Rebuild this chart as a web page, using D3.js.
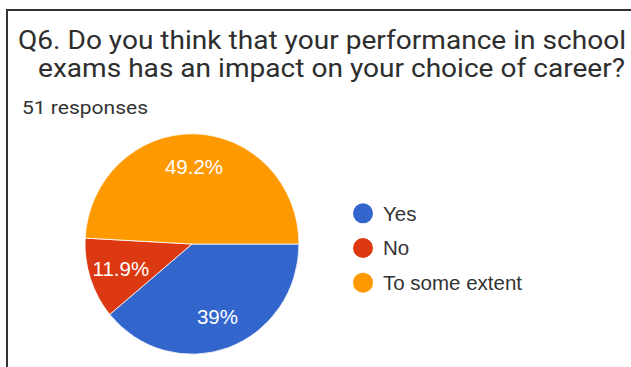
<!DOCTYPE html>
<html>
<head>
<meta charset="utf-8">
<script src="https://cdn.jsdelivr.net/npm/d3@7"></script>
<style>
  html, body { margin: 0; padding: 0; background: #fff; }
  svg { display: block; }
</style>
</head>
<body>
<svg id="chart" width="631" height="367"></svg>
<script>
// Survey answers for Q6
const categories = ["Yes", "No", "To some extent"];
const shares = [39, 11.9, 49.2];
const sliceLabels = ["39%", "11.9%", "49.2%"];
const colors = ["#3366cc", "#dc3912", "#ff9900"];
const titleLines = [
  "Q6. Do you think that your performance in school",
  "exams has an impact on your choice of career?"
];
const subtitle = "51 responses";

const svg = d3.select("#chart");

// card outline (open to the right and bottom)
svg.append("path")
  .attr("d", "M7,367 V10 H631")
  .attr("fill", "none")
  .attr("stroke", "#333")
  .attr("stroke-width", 2);

// title
const titleX = [18, 38];
const titleY = [49, 77];
const titleW = [608, 587];
titleLines.forEach((t, i) => {
  svg.append("text")
    .attr("x", titleX[i])
    .attr("y", titleY[i])
    .attr("font-family", "Roboto, 'Noto Sans', sans-serif")
    .attr("font-size", 25.5)
    .attr("fill", "#2e2e2e")
    .attr("textLength", titleW[i])
    .attr("lengthAdjust", "spacingAndGlyphs")
    .text(t);
});

svg.append("text")
  .attr("x", 22)
  .attr("y", 114)
  .attr("font-family", "Roboto, 'Noto Sans', sans-serif")
  .attr("font-size", 18)
  .attr("fill", "#333")
  .attr("textLength", 126)
  .attr("lengthAdjust", "spacingAndGlyphs")
  .text(subtitle);

// pie
const cx = 192, cy = 244, r = 107, sy = 1.03;
const pie = d3.pie().sort(null).value(d => d)
  .startAngle(Math.PI / 2).endAngle(Math.PI / 2 + 2 * Math.PI);
const arcs = pie(shares);
const arc = d3.arc().innerRadius(0).outerRadius(r);
const labelArc = d3.arc().innerRadius(r * 0.7).outerRadius(r * 0.7);

const g = svg.append("g")
  .attr("transform", `translate(${cx},${cy}) scale(1,${sy})`);
g.selectAll("path")
  .data(arcs)
  .join("path")
  .attr("d", arc)
  .attr("fill", (d, i) => colors[i])
  .attr("stroke", "#fff")
  .attr("stroke-width", 0.8);

svg.append("g")
  .selectAll("text")
  .data(arcs)
  .join("text")
  .attr("x", d => cx + labelArc.centroid(d)[0])
  .attr("y", d => cy + labelArc.centroid(d)[1] * sy)
  .attr("dy", "0.36em")
  .attr("text-anchor", "middle")
  .attr("font-family", "'Liberation Sans', Arial, sans-serif")
  .attr("font-size", 20.5)
  .attr("fill", "#fff")
  .text((d, i) => sliceLabels[i]);

// legend
const legend = svg.append("g");
const ly = d3.scaleBand().domain(categories).range([196, 300]);
categories.forEach((c, i) => {
  const y = ly(c) + ly.bandwidth() / 2;
  legend.append("circle")
    .attr("cx", 363).attr("cy", y).attr("r", 10)
    .attr("fill", colors[i]);
  legend.append("text")
    .attr("x", 383).attr("y", y)
    .attr("dy", "0.36em")
    .attr("font-family", "'Liberation Sans', Arial, sans-serif")
    .attr("font-size", 20.5)
    .attr("fill", "#333")
    .text(c);
});
</script>
</body>
</html>
